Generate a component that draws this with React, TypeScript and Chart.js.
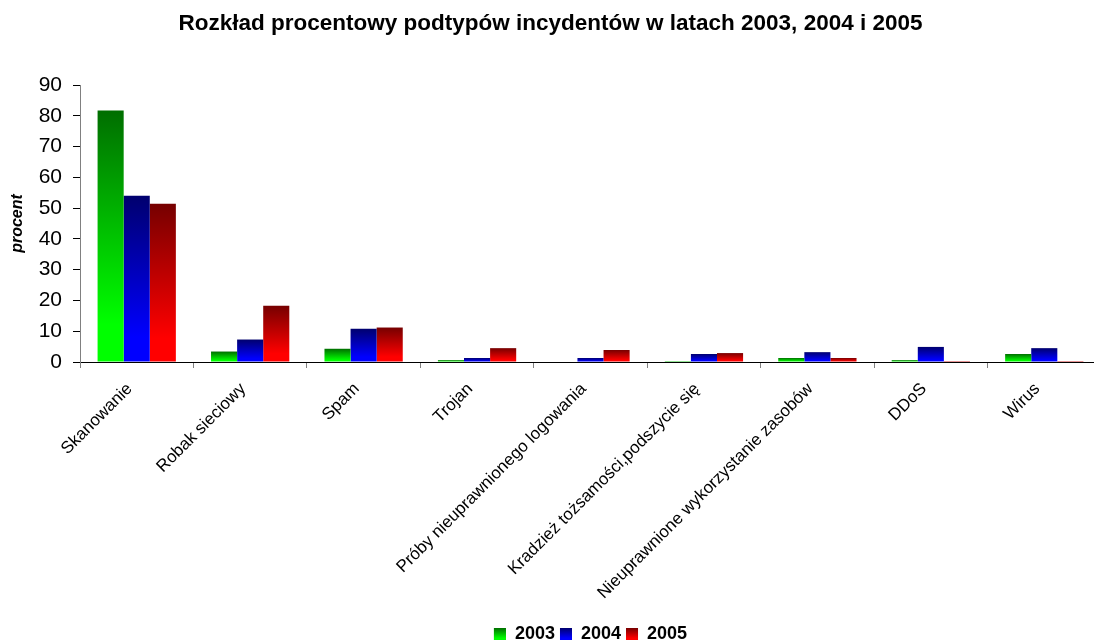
import { useEffect, useRef } from "react";
import { Chart, registerables } from "chart.js";

Chart.register(...registerables);

// Incident subtype categories (x axis)
const categories = [
  "Skanowanie",
  "Robak sieciowy",
  "Spam",
  "Trojan",
  "Próby nieuprawnionego logowania",
  "Kradzież tożsamości,podszycie się",
  "Nieuprawnione wykorzystanie zasobów",
  "DDoS",
  "Wirus",
];

// Series labels
const years = ["2003", "2004", "2005"];

// Percent share per subtype, one array per year
const values2003 = [81.7, 3.4, 4.3, 0.6, 0, 0.3, 1.3, 0.6, 2.6];
const values2004 = [54.0, 7.3, 10.8, 1.3, 1.3, 2.6, 3.2, 4.9, 4.5];
const values2005 = [51.4, 18.3, 11.2, 4.5, 3.9, 2.9, 1.3, 0.3, 0.3];

// Y axis range
const yMin = 0;
const yMax = 90;
const yStep = 10;

const titleText = "Rozkład procentowy podtypów incydentów w latach 2003, 2004 i 2005";
const yAxisTitle = "procent";

const FONT = "'Liberation Sans', Arial, Helvetica, sans-serif";

// [dark top, bright bottom] for each year's gradient fill
const palette: [string, string][] = [
  ["#006e00", "#00ff00"],
  ["#00006e", "#0000ff"],
  ["#760000", "#ff0000"],
];

const LEGEND_FONT = 18;
const LEGEND_BOX = 12;

function barFill(dark: string, bright: string) {
  return (ctx: any) => {
    if (ctx.type !== "data") return bright;
    const chart = ctx.chart;
    const y = chart.scales?.y;
    if (!y || !chart.chartArea) return bright;
    const top = y.getPixelForValue(ctx.raw);
    const base = y.getPixelForValue(0);
    if (!isFinite(top) || !isFinite(base) || base - top < 0.5) return dark;
    const g = chart.ctx.createLinearGradient(0, top, 0, base);
    g.addColorStop(0, dark);
    g.addColorStop(0.85, bright);
    g.addColorStop(1, bright);
    return g;
  };
}

// Repaints the legend swatches with the same vertical gradient as the bars
const legendGradient = {
  id: "legendGradient",
  afterDraw(chart: any) {
    const legend = chart.legend;
    if (!legend || !legend.legendHitBoxes) return;
    const ctx = chart.ctx;
    legend.legendHitBoxes.forEach((hb: any, i: number) => {
      const colors = palette[i];
      if (!colors) return;
      const top = hb.top + Math.max((LEGEND_FONT - LEGEND_BOX) / 2, 0);
      const g = ctx.createLinearGradient(0, top, 0, top + LEGEND_BOX);
      g.addColorStop(0, colors[0]);
      g.addColorStop(0.85, colors[1]);
      g.addColorStop(1, colors[1]);
      ctx.save();
      ctx.fillStyle = g;
      ctx.fillRect(hb.left, top, LEGEND_BOX, LEGEND_BOX);
      ctx.restore();
    });
  },
};

export default function App() {
  const canvasRef = useRef<HTMLCanvasElement | null>(null);

  useEffect(() => {
    const canvas = canvasRef.current;
    if (!canvas) return;
    const series = [values2003, values2004, values2005];
    const chart = new Chart(canvas, {
      type: "bar",
      data: {
        labels: categories,
        datasets: years.map((year, i) => ({
          label: year,
          data: series[i],
          backgroundColor: barFill(palette[i][0], palette[i][1]),
          borderWidth: 0,
          barPercentage: 1,
          categoryPercentage: 0.69,
        })),
      },
      options: {
        responsive: false,
        animation: false,
        devicePixelRatio: 1,
        layout: { padding: { left: 0, right: 0, top: 0, bottom: -10 } },
        plugins: {
          title: {
            display: true,
            text: titleText,
            color: "#000",
            font: { family: FONT, size: 22.5, weight: "bold" },
            padding: { top: 10, bottom: 48 },
          },
          legend: {
            position: "bottom",
            fullSize: false,
            labels: {
              color: "#000",
              font: { family: FONT, size: LEGEND_FONT, weight: "bold" },
              boxWidth: LEGEND_BOX,
              boxHeight: LEGEND_BOX,
              padding: 5,
            },
          },
          tooltip: { enabled: false },
        },
        scales: {
          x: {
            offset: true,
            grid: {
              offset: true,
              drawOnChartArea: false,
              drawTicks: true,
              tickLength: 6,
              color: "#808080",
            },
            border: { color: "#000", width: 1 },
            ticks: {
              color: "#000",
              font: { family: FONT, size: 17 },
              minRotation: 45,
              maxRotation: 45,
              autoSkip: false,
              padding: 11,
              labelOffset: -7,
            },
            afterFit: (s: any) => {
              s.height = 258;
            },
          },
          y: {
            min: yMin,
            max: yMax,
            ticks: {
              stepSize: yStep,
              color: "#000",
              font: { family: FONT, size: 21 },
              padding: 11,
            },
            grid: {
              drawOnChartArea: false,
              tickLength: 7,
              color: "#000",
            },
            border: { color: "#808080", width: 1 },
            title: {
              display: true,
              text: yAxisTitle,
              color: "#000",
              font: { family: FONT, size: 16, weight: "bold", style: "italic" },
              padding: { top: 8.4, bottom: 0 },
            },
            afterFit: (s: any) => {
              s.width = 80;
            },
          },
        },
      },
      plugins: [legendGradient],
    });
    return () => chart.destroy();
  }, []);

  return (
    <div
      style={{
        position: "fixed",
        left: 0,
        top: 0,
        width: 1094,
        height: 643,
        overflow: "hidden",
        background: "#fff",
      }}
    >
      <canvas ref={canvasRef} width={1101} height={643} style={{ display: "block" }} />
    </div>
  );
}
